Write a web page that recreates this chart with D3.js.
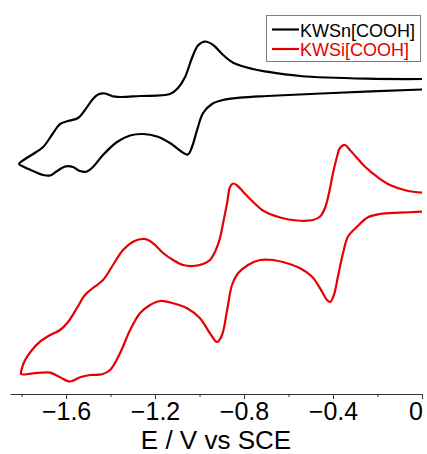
<!DOCTYPE html>
<html>
<head>
<meta charset="utf-8">
<script src="https://cdn.jsdelivr.net/npm/d3@7"></script>
<style>
  html, body { margin: 0; padding: 0; background: #fff; }
  svg { display: block; }
  text { font-family: "Liberation Sans", Arial, Helvetica, sans-serif; }
</style>
</head>
<body>
<script>
// Cyclic voltammograms (offset, arbitrary current units).
// Each trace: cathodic sweep from 0 V down to the switching potential, then back.
const snE = [0.000, -0.247, -0.548, -0.697, -0.760, -0.849, -0.894, -0.939, -0.975, -1.007,
  -1.034, -1.065, -1.097, -1.133, -1.267, -1.380, -1.425, -1.456, -1.483, -1.515,
  -1.546, -1.591, -1.627, -1.658, -1.703, -1.748, -1.784, -1.811,
  -1.793, -1.748, -1.703, -1.672, -1.640, -1.604, -1.569, -1.537, -1.506, -1.479,
  -1.434, -1.371, -1.312, -1.254, -1.191, -1.133, -1.079, -1.052, -1.034, -1.011,
  -0.984, -0.944, -0.894, -0.818, -0.697, -0.400, 0.000];
const snI = [315, 315.3, 318, 322.3, 325, 331.3, 339, 349, 352.5, 348.5,
  336, 317, 306, 300, 298, 297.3, 300.5, 299.5, 294, 284,
  276, 273, 270, 261, 247, 240, 235, 230,
  227.5, 223, 219, 218.5, 223, 227.5, 227, 223, 222.5, 227,
  239, 252, 258.5, 260, 257.5, 251, 242, 239.5, 247, 264,
  281, 290, 294, 296.3, 298, 301, 304.5];

const siE = [0.000, -0.067, -0.144, -0.202, -0.256, -0.292, -0.324, -0.346, -0.369, -0.382,
  -0.400, -0.418, -0.436, -0.458, -0.490, -0.562, -0.638, -0.715, -0.742, -0.773,
  -0.804, -0.831, -0.849, -0.863, -0.876, -0.894, -0.908, -0.930, -0.953, -0.984,
  -1.029, -1.074, -1.119, -1.164, -1.200, -1.231, -1.258, -1.299, -1.344, -1.389,
  -1.434, -1.479, -1.515, -1.551, -1.591, -1.627, -1.672, -1.717, -1.753, -1.784,
  -1.798, -1.802,
  -1.748, -1.672, -1.627, -1.582, -1.537, -1.492, -1.438, -1.402, -1.357, -1.312,
  -1.267, -1.222, -1.178, -1.119, -1.056, -0.998, -0.953, -0.921, -0.899, -0.876,
  -0.854, -0.827, -0.782, -0.728, -0.670, -0.607, -0.548, -0.494, -0.458, -0.427,
  -0.413, -0.396, -0.378, -0.355, -0.333, -0.292, -0.243, -0.189, -0.099, 0.000];
const siI = [201.3, 203.3, 209, 217.3, 227.3, 236, 244, 249, 246, 237.3,
  221, 201, 186, 177.5, 174, 173.5, 176.5, 183.5, 188.5, 195,
  202.3, 208.5, 210.5, 207, 191, 171, 156, 142.3, 134, 130,
  128, 129, 134, 141, 149, 154, 155, 152.3, 144, 129,
  114, 106, 99, 86, 72, 64, 59, 52.3, 44, 34,
  26, 20,
  20.7, 21.3, 16.7, 12.5, 16.7, 19, 19.7, 24, 41, 64,
  81, 89, 93, 90.7, 85.7, 75.7, 60.7, 52, 59, 84,
  109, 120.7, 129, 134, 134, 130.7, 125.7, 117.3, 105.7, 94,
  92, 99, 117.3, 140.7, 157.3, 167.3, 176.7, 180, 181.3, 182.3];

const seriesNames = ["KWSn[COOH]", "KWSi[COOH]"];
const seriesColors = ["#000000", "#e60000"];
const majorTicks = [-1.6, -1.2, -0.8, -0.4, 0];
const minorTicks = [-1.8, -1.4, -1.0, -0.6, -0.2];
const xTitle = "E / V vs SCE";

const W = 427, H = 454;
const svg = d3.select("body").append("svg").attr("width", W).attr("height", H);

const x = d3.scaleLinear().domain([-1.852, 0]).range([10, 422]);
const y = d3.scaleLinear().domain([0, 364]).range([394, 30]);

// Axis: major ticks with labels, minor ticks without
const axisG = svg.append("g").attr("transform", `translate(0,${y(0)})`);
axisG.call(d3.axisBottom(x).tickValues(majorTicks).tickSize(5).tickSizeOuter(0)
  .tickFormat(d => d === 0 ? "0" : d3.format(".1f")(d)));
axisG.select(".domain").attr("stroke", "#333").attr("stroke-width", 1);
axisG.selectAll(".tick line").attr("stroke", "#333");
axisG.selectAll(".tick text")
  .attr("dy", null).attr("y", 26)
  .attr("fill", "#000").style("font-size", "25px")
  .style("font-family", '"Liberation Sans", Arial, sans-serif');
// keep the label at the right end inside the plot edge
axisG.selectAll(".tick text").filter(d => d === 0).attr("x", -6.5);

const minorG = svg.append("g").attr("transform", `translate(0,${y(0)})`);
minorG.call(d3.axisBottom(x).tickValues(minorTicks).tickSize(3).tickSizeOuter(0).tickFormat(""));
minorG.select(".domain").remove();
minorG.selectAll(".tick line").attr("stroke", "#333");

svg.append("text")
  .attr("x", (x(-1.852) + x(0)) / 2).attr("y", 449)
  .attr("text-anchor", "middle").style("font-size", "26px").attr("fill", "#000")
  .text(xTitle);

// Traces
const line = d3.line().x(d => x(d[0])).y(d => y(d[1])).curve(d3.curveCatmullRom.alpha(0.5));
const traces = [d3.zip(snE, snI), d3.zip(siE, siI)];
traces.forEach((pts, k) => {
  svg.append("path").datum(pts)
    .attr("d", line)
    .attr("fill", "none")
    .attr("stroke", seriesColors[k])
    .attr("stroke-width", 2.2)
    .attr("stroke-linejoin", "round");
});

// Legend
const lg = svg.append("g");
lg.append("rect").attr("x", 266.5).attr("y", 15.5).attr("width", 154).attr("height", 46)
  .attr("fill", "#fff").attr("stroke", "#808080").attr("stroke-width", 1);
seriesNames.forEach((name, k) => {
  const cy = 29.5 + k * 19.5;
  lg.append("line").attr("x1", 272).attr("x2", 299).attr("y1", cy).attr("y2", cy)
    .attr("stroke", seriesColors[k]).attr("stroke-width", 2.2);
  lg.append("text").attr("x", 300).attr("y", cy + 7)
    .style("font-size", "18px").attr("fill", seriesColors[k]).text(name);
});
</script>
</body>
</html>
